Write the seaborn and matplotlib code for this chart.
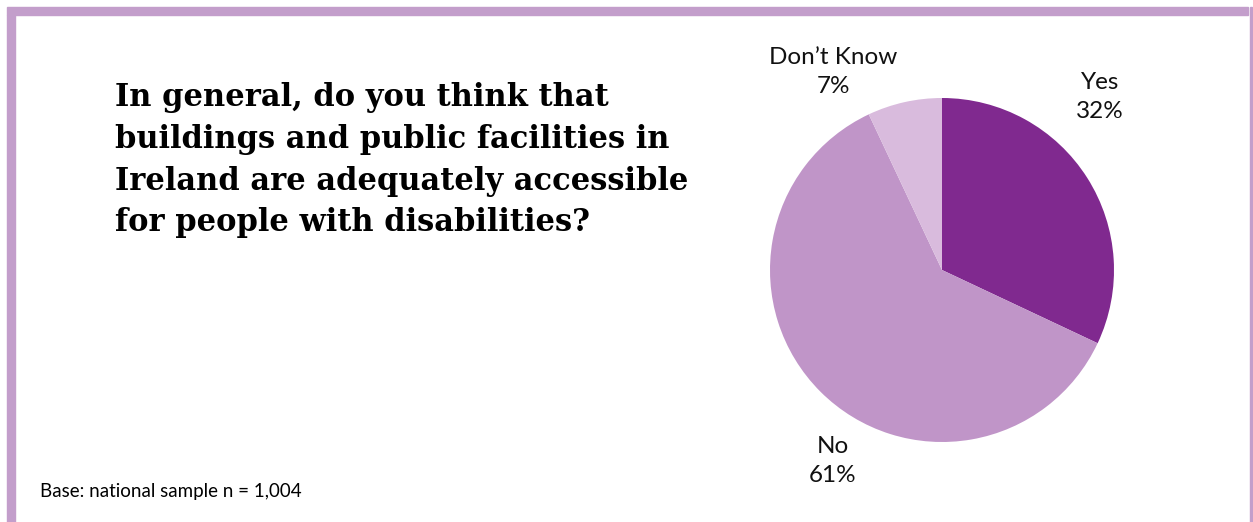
import matplotlib
matplotlib.use("Agg")
import matplotlib.pyplot as plt
from matplotlib.patches import Rectangle
import seaborn as sns

# Survey answers
categories = ["Yes", "No", "Don\u2019t Know"]
shares = [32, 61, 7]
colors = ["#80298F", "#C095C8", "#D9BBDD"]

question = ("In general, do you think that\n"
            "buildings and public facilities in\n"
            "Ireland are adequately accessible\n"
            "for people with disabilities?")
base_note = "Base: national sample n = 1,004"

sns.set_theme(style="white")
plt.rcParams["font.family"] = ["Lato", "DejaVu Sans"]

W, H = 1253, 522
fig = plt.figure(figsize=(W / 100, H / 100), dpi=100)
fig.patch.set_facecolor("white")

def fx(px):
    return px / W

def fy(py):
    return 1 - py / H

# Frame: thick bars on top and left, thin line on the right
frame = "#C39ECB"
fig.patches.append(Rectangle((fx(7), fy(15)), fx(1241), 8 / H, transform=fig.transFigure,
                             color=frame, zorder=0))
fig.patches.append(Rectangle((fx(7), 0), 8 / W, fy(15), transform=fig.transFigure,
                             color=frame, zorder=0))
fig.patches.append(Rectangle((fx(1250), 0), 2 / W, fy(7), transform=fig.transFigure,
                             color=frame, zorder=0))

# Pie chart
cx, cy, r = 942, 270, 172
ax = fig.add_axes([fx(cx - r), fy(cy + r), 2 * r / W, 2 * r / H])
ax.pie(shares, colors=colors, startangle=90, counterclock=False, radius=1,
       wedgeprops=dict(linewidth=0))
ax.set_xlim(-1, 1)
ax.set_ylim(-1, 1)
ax.set_aspect("equal")
ax.axis("off")

label_pos = {"Yes": (1100, 97), "No": (833, 461), "Don\u2019t Know": (833, 72)}
for cat, val in zip(categories, shares):
    x, y = label_pos[cat]
    fig.text(fx(x), fy(y), f"{cat}\n{val}%", ha="center", va="center",
             fontsize=17.5, color="#111111", linespacing=1.45)

fig.text(fx(115), fy(82), question, ha="left", va="top", family="DejaVu Serif",
         fontweight="bold", fontsize=22, color="black", linespacing=1.45)

fig.text(fx(40), fy(492), base_note, ha="left", va="center", fontsize=13.5, color="black")

fig.savefig("out.png", dpi=100)
